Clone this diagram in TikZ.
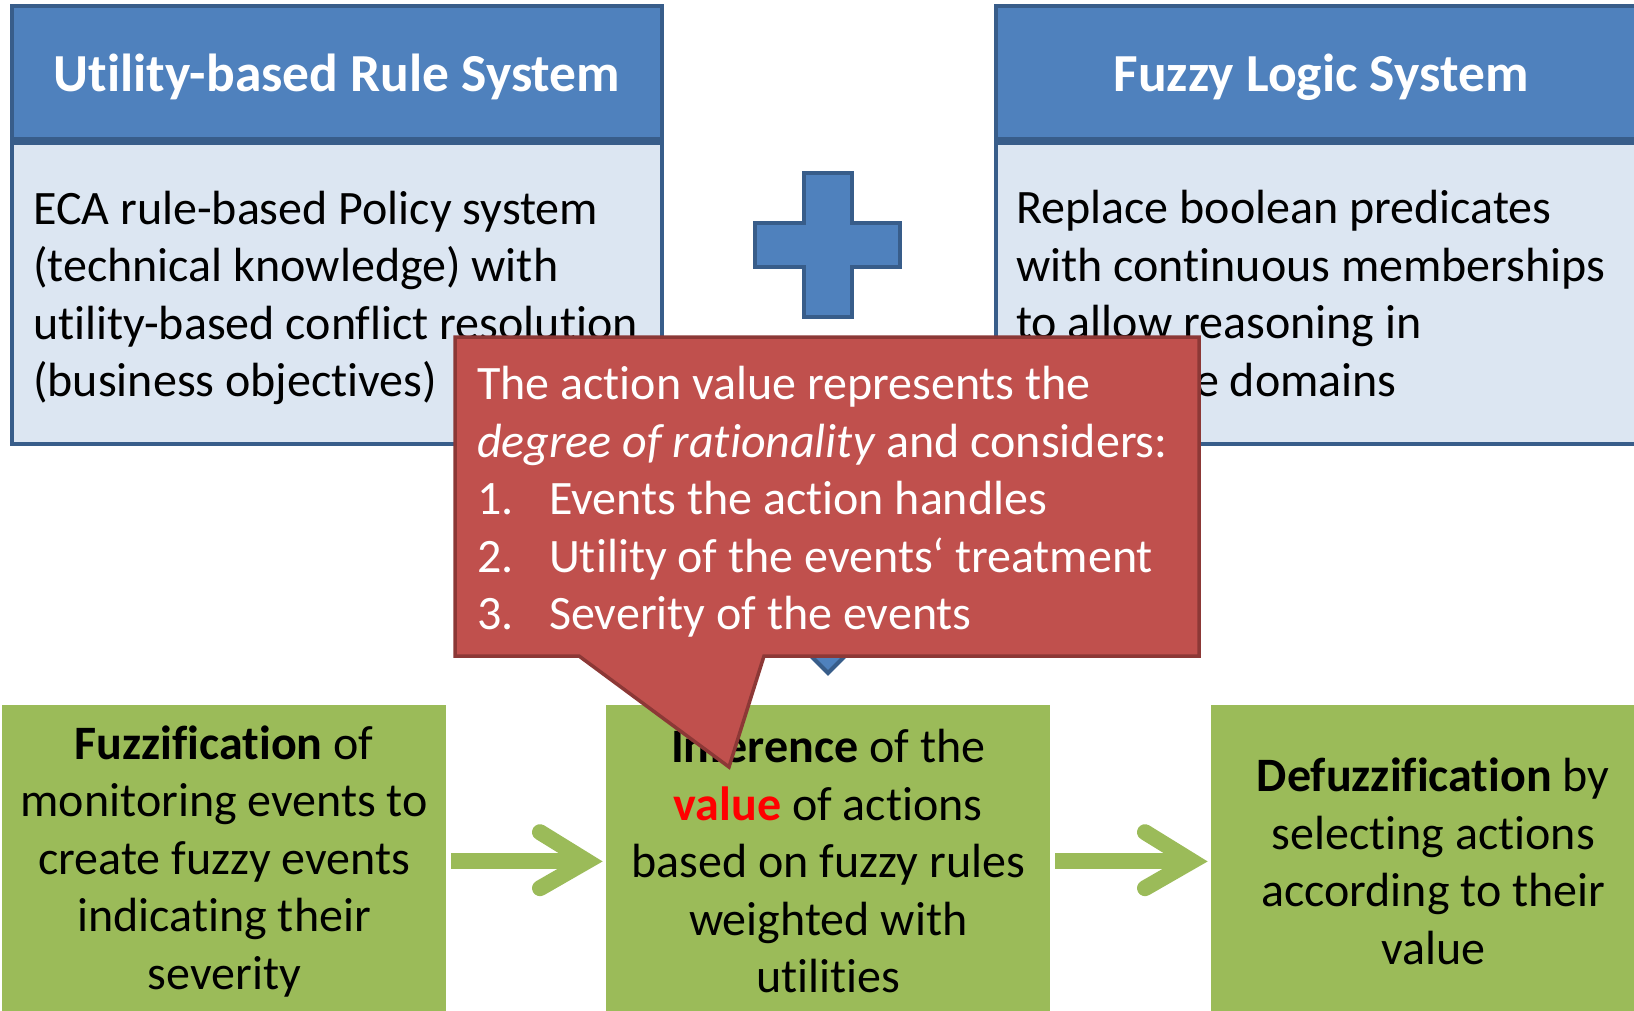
\documentclass[tikz,border=0pt]{standalone}
\usepackage{fontspec}
\setmainfont{Carlito}[Ligatures={NoCommon}]
\usetikzlibrary{calc}

\definecolor{hdrblue}{HTML}{4F81BD}
\definecolor{edgeblue}{HTML}{385D8A}
\definecolor{paleblue}{HTML}{DCE6F2}
\definecolor{leaf}{HTML}{9BBB59}
\definecolor{calloutred}{HTML}{C0504D}
\definecolor{calloutedge}{HTML}{8C3836}
\definecolor{hot}{HTML}{FF0000}

\newcommand{\txtsize}{\fontsize{48}{57.5}\selectfont}
\newcommand{\hdrsize}{\fontsize{53.5}{60}\selectfont}

\tikzset{
  headbar/.style={fill=hdrblue, draw=edgeblue, line width=4pt},
  bodypanel/.style={fill=paleblue, draw=edgeblue, line width=4pt},
  headtext/.style={font=\hdrsize\bfseries, text=white, inner sep=0pt},
  paneltext/.style={font=\txtsize, align=left, anchor=west, inner sep=0pt},
  stagebox/.style={fill=leaf, draw=none, minimum width=444pt, minimum height=312pt,
                   anchor=north west, align=center, font=\txtsize, inner sep=0pt},
  shaft/.style={draw=leaf, line width=16pt, line cap=butt},
  chevron/.style={draw=leaf, line width=16pt, line cap=round, line join=miter},
  bluesign/.style={fill=hdrblue, draw=edgeblue, line width=4pt, line join=miter},
  calloutshape/.style={fill=calloutred, draw=calloutedge, line width=3.5pt, line join=miter},
  callouttext/.style={font=\txtsize, text=white, align=left, anchor=west, inner sep=0pt},
}

\begin{document}
\begin{tikzpicture}[x=1pt, y=-1pt]
  \useasboundingbox (0,0) rectangle (1634,1011);
  \clip (0,0) rectangle (1634,1011);

  % left panel: utility-based rule system
  \draw[bodypanel] (12,143) rectangle (662,444);
  \draw[headbar] (12,6) rectangle (662,139);
  \node[headtext] (ursTitle) at (337,77) {Utility-based Rule System};
  \node[paneltext] (ursText) at (33,298)
    {ECA rule-based Policy system\\(technical knowledge) with\\utility-based conflict resolution\\(business objectives)};

  % right panel: fuzzy logic system (last line partly hidden by the callout)
  \draw[bodypanel] (996,143) rectangle (1648,444);
  \draw[headbar] (996,6) rectangle (1648,139);
  \node[headtext] (flsTitle) at (1321,77) {Fuzzy Logic System};
  \node[paneltext] (flsText) at (1016,293.5)
    {Replace boolean predicates\\with continuous memberships\\to allow reasoning in\\\hspace*{179pt}e domains};

  % plus sign between the panels
  \draw[bluesign] (804,173) -- (852,173) -- (852,223) -- (900,223) -- (900,267)
    -- (852,267) -- (852,317) -- (804,317) -- (804,267) -- (755,267) -- (755,223)
    -- (804,223) -- cycle;

  % down arrow towards the inference stage
  \draw[bluesign] (804,340) -- (852,340) -- (852,618) -- (883,618) -- (828,673)
    -- (773,618) -- (804,618) -- cycle;

  % processing stages
  \node[stagebox] (fuzz) at (2,705)
    {\textbf{Fuzzification} of\\monitoring events to\\create fuzzy events\\indicating their\\severity};
  \node[stagebox] (infer) at (606,705)
    {\textbf{Inference} of the\\\textcolor{hot}{\textbf{value}} of actions\\based on fuzzy rules\\weighted with\\utilities};
  \node[stagebox] (defuzz) at (1211,705)
    {\textbf{Defuzzification} by\\selecting actions\\according to their\\value};

  % flow arrows between the stages
  \draw[shaft] ([xshift=5pt]fuzz.east) -- ([xshift=-19pt]infer.west);
  \draw[chevron] ([shift={(-66,-29)}]infer.west) -- ([xshift=-19pt]infer.west)
    -- ([shift={(-66,27)}]infer.west);
  \draw[shaft] ([xshift=5pt]infer.east) -- ([xshift=-19pt]defuzz.west);
  \draw[chevron] ([shift={(-66,-29)}]defuzz.west) -- ([xshift=-19pt]defuzz.west)
    -- ([shift={(-66,27)}]defuzz.west);

  % callout explaining the action value
  \draw[calloutshape] (455,337) -- (1199,337) -- (1199,656) -- (764,656)
    -- (729,767) -- (579,656) -- (455,656) -- cycle;
  \node[callouttext] (note) at (477,502)
    {The action value represents the\\
     \textit{degree of rationality} and considers:\\
     \makebox[72pt][l]{1.}Events the action handles\\
     \makebox[72pt][l]{2.}Utility of the events‘ treatment\\
     \makebox[72pt][l]{3.}Severity of the events};
\end{tikzpicture}
\end{document}
